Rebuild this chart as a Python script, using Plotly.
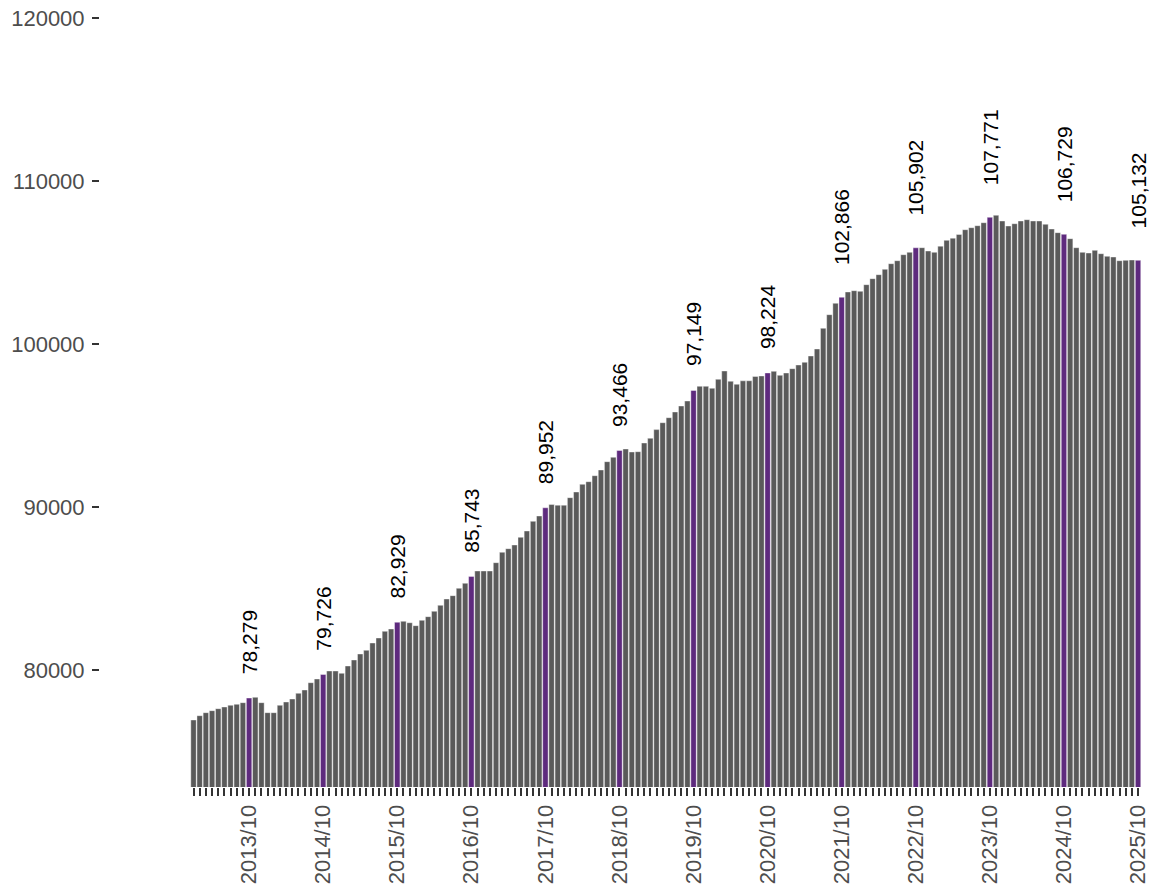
import plotly.graph_objects as go

start_year = 2013
values = [
    # 2013
    76933, 77197, 77383, 77506, 77628, 77730, 77834, 77894, 77996, 78279, 78323, 77996,
    # 2014
    77383, 77383, 77834, 78037, 78221, 78570, 78773, 79221, 79448, 79726, 79939, 79939,
    # 2015
    79796, 80245, 80614, 80982, 81207, 81656, 81963, 82372, 82515, 82929, 82985, 82900,
    # 2016
    82720, 83047, 83272, 83600, 83967, 84356, 84561, 85012, 85319, 85743, 86074, 86074,
    # 2017
    86074, 86585, 87220, 87444, 87669, 88138, 88527, 89120, 89448, 89952, 90150, 90110,
    # 2018
    90110, 90573, 90920, 91390, 91553, 91920, 92270, 92781, 93048, 93466, 93558, 93374,
    # 2019
    93394, 93926, 94215, 94747, 95172, 95479, 95829, 96196, 96503, 97149, 97405, 97405,
    # 2020
    97282, 97834, 98344, 97712, 97528, 97740, 97745, 98010, 98038, 98224, 98323, 98078,
    # 2021
    98221, 98487, 98712, 98876, 99264, 99693, 100962, 101799, 102497, 102866, 103191, 103271,
    # 2022
    103230, 103640, 104008, 104253, 104580, 104927, 105111, 105479, 105622, 105902, 105908, 105704,
    # 2023
    105622, 106000, 106358, 106490, 106716, 107013, 107135, 107258, 107442, 107771, 107896, 107546,
    # 2024
    107239, 107381, 107546, 107626, 107546, 107546, 107344, 107055, 106831, 106729, 106462, 105908,
    # 2025
    105622, 105581, 105745, 105540, 105377, 105336, 105111, 105131, 105152, 105132,
]
y_ticks = [80000, 90000, 100000, 110000, 120000]
highlight_month = 10

months = [f"{start_year + k // 12}/{k % 12 + 1:02d}" for k in range(len(values))]
is_hl = [int(m.split("/")[1]) == highlight_month for m in months]

GRAY = "#5a5a5a"
PURPLE = "#5e2a7e"
FONT = "Liberation Sans, Arial, sans-serif"

xs = list(range(len(values)))
fig = go.Figure()
fig.add_trace(go.Bar(
    x=xs, y=values,
    marker=dict(color=[PURPLE if h else GRAY for h in is_hl],
                line=dict(color="#ffffff", width=0.4)),
    hoverinfo="x+y",
))

for i, (v, h) in enumerate(zip(values, is_hl)):
    if h:
        txt = f"{v:,}"
        fig.add_annotation(
            x=i, y=v, text=txt, textangle=-90, showarrow=False,
            xanchor="center", yanchor="bottom",
            yshift=22 if len(txt) <= 6 else 30,
            font=dict(family=FONT, size=21, color="#000000"),
        )

fig.update_layout(
    width=1154, height=888,
    margin=dict(l=100, r=4, t=18, b=101),
    paper_bgcolor="white", plot_bgcolor="white",
    bargap=0.12, showlegend=False,
    font=dict(family=FONT),
)
fig.update_xaxes(
    range=[-15.15, 154.45],
    tickmode="array", tickvals=xs,
    ticktext=[m if h else "" for m, h in zip(months, is_hl)],
    tickangle=-90, ticks="outside", ticklen=8, tickwidth=2, tickcolor="#333333",
    tickfont=dict(family=FONT, size=22, color="#4d4d4d"),
    showgrid=False, zeroline=False, showline=False,
)
fig.update_yaxes(
    range=[72822, 120000],
    tickmode="array", tickvals=y_ticks, ticktext=[str(t) for t in y_ticks],
    ticks="outside", ticklen=7, tickwidth=2, tickcolor="#333333",
    tickfont=dict(family=FONT, size=22, color="#4d4d4d"),
    ticklabelstandoff=3,
    showgrid=False, zeroline=False, showline=False,
)

fig.write_html(
    "out.html",
    config={"displayModeBar": False},
    post_script="document.body.style.margin='0';document.body.style.overflow='hidden';",
)
